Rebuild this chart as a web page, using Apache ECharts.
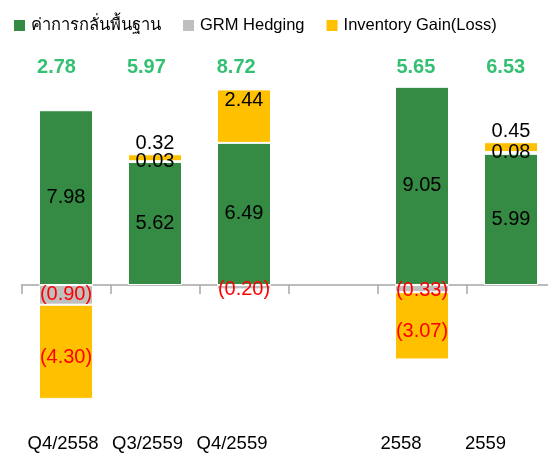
<!DOCTYPE html>
<html>
<head>
<meta charset="utf-8">
<script src="https://cdn.jsdelivr.net/npm/echarts@6/dist/echarts.min.js"></script>
<style>
html,body{margin:0;padding:0;background:#fff;}
#chart{width:548px;height:454px;}
</style>
</head>
<body>
<div id="chart"></div>
<script>
const categories = ['Q4/2558', 'Q3/2559', 'Q4/2559', '', '2558', '2559'];
const seriesNames = ['ค่าการกลั่นพื้นฐาน', 'GRM Hedging', 'Inventory Gain(Loss)'];
const baseGrm = [7.98, 5.62, 6.49, null, 9.05, 5.99];
const grmHedging = [-0.90, 0.03, -0.20, null, -0.33, 0.08];
const inventory = [-4.30, 0.32, 2.44, null, -3.07, 0.45];
const totals = [2.78, 5.97, 8.72, null, 5.65, 6.53];

const FONT = '"Liberation Sans", Arial, "Noto Sans", "DejaVu Sans", sans-serif';
const colors = ['#358B43', '#BFBFBF', '#FFC000'];

function fmt(v) {
  if (v == null) return '';
  return v < 0 ? '{n|(' + Math.abs(v).toFixed(2) + ')}' : '{p|' + v.toFixed(2) + '}';
}
const rich = {
  n: { color: '#FF0000', fontSize: 20, fontFamily: FONT },
  p: { color: '#000000', fontSize: 20, fontFamily: FONT }
};

function barSeries(idx, values, labelFor) {
  return {
    name: seriesNames[idx],
    type: 'bar',
    stack: 'grm',
    xAxisIndex: 0,
    yAxisIndex: 0,
    barWidth: 54,
    itemStyle: { color: colors[idx], borderColor: '#ffffff', borderWidth: 1 },
    label: {
      show: true,
      position: 'inside',
      formatter: p => fmt(p.value),
      rich: rich
    },
    data: values.map((v, i) => {
      const item = { value: v };
      const l = labelFor ? labelFor(v, i) : null;
      if (l) item.label = l;
      return item;
    }),
    z: 2
  };
}

const chart = echarts.init(document.getElementById('chart'), null, { renderer: 'canvas' });
const yRange = { min: -6, max: 10 };
const option = {
  animation: false,
  textStyle: { fontFamily: FONT },
  legend: {
    data: seriesNames,
    left: 12,
    top: 17,
    padding: 0,
    itemGap: 20,
    itemWidth: 13,
    itemHeight: 13,
    icon: 'rect',
    textStyle: { fontSize: 16.5, color: '#000', fontFamily: FONT }
  },
  grid: [
    { left: 21.5, width: 534, top: 66, height: 350.4, outerBoundsMode: 'none', containLabel: false },
    { left: 11.6, width: 539, top: 66, height: 350.4, outerBoundsMode: 'none', containLabel: false },
    { left: 20.75, width: 507, top: 400, height: 20, outerBoundsMode: 'none', containLabel: false }
  ],
  xAxis: [
    {
      type: 'category', gridIndex: 0, data: categories,
      axisLine: { show: true, onZero: true, lineStyle: { color: '#A6A6A6', width: 1.5 } },
      axisTick: { show: true, length: 9, lineStyle: { color: '#A6A6A6', width: 1.5 } },
      axisLabel: { show: false }, splitLine: { show: false }
    },
    {
      type: 'category', gridIndex: 1, data: categories, show: false
    },
    {
      type: 'category', gridIndex: 2, data: categories, position: 'bottom',
      axisLine: { show: false }, axisTick: { show: false },
      axisLabel: { show: true, margin: 14, fontSize: 18.5, color: '#000', fontFamily: FONT, interval: 0 }
    }
  ],
  yAxis: [
    { type: 'value', gridIndex: 0, min: yRange.min, max: yRange.max, show: false, splitLine: { show: false } },
    { type: 'value', gridIndex: 1, min: yRange.min, max: yRange.max, show: false, splitLine: { show: false } },
    { type: 'value', gridIndex: 2, show: false, splitLine: { show: false } }
  ],
  series: [
    barSeries(0, baseGrm),
    barSeries(1, grmHedging, (v, i) => (v != null && v < 0 && v > -0.5) ? { offset: [0, 2] } : null),
    barSeries(2, inventory, (v, i) => {
      if (v != null && v > 0 && v < 1) return { position: 'top', distance: 1 };
      if (v != null && v >= 1) return { position: 'insideTop', distance: 1 };
      if (v != null && v < 0) return { offset: [0, 6] };
      return null;
    }),
    {
      name: 'total',
      type: 'scatter',
      xAxisIndex: 1,
      yAxisIndex: 1,
      symbolSize: 1,
      itemStyle: { color: 'rgba(0,0,0,0)' },
      label: {
        show: true,
        position: 'inside',
        formatter: p => totals[p.dataIndex] == null ? '' : totals[p.dataIndex].toFixed(2),
        color: '#00B050',
        fontWeight: 'bold',
        fontSize: 20,
        fontFamily: FONT
      },
      data: totals.map(t => t == null ? null : 9.95)
    }
  ]
};
chart.setOption(option);
</script>
</body>
</html>
